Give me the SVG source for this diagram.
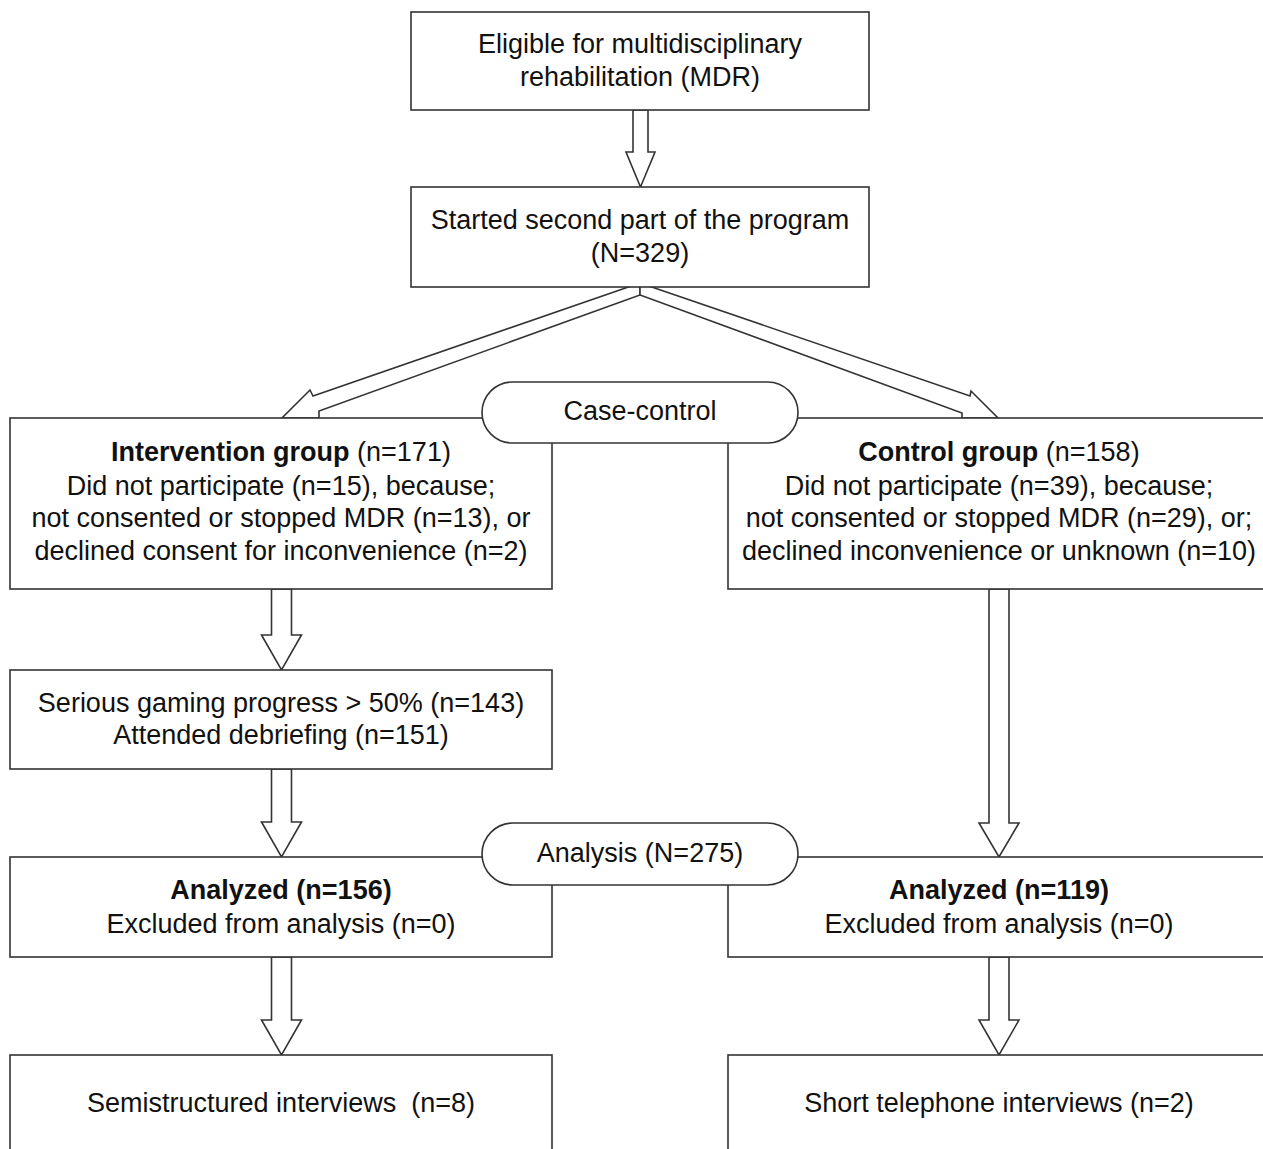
<svg xmlns="http://www.w3.org/2000/svg" width="1263" height="1149" viewBox="0 0 1263 1149">
<style>
.box{fill:#fff;stroke:#333;stroke-width:1.6}
.arr{fill:#fff;stroke:#333;stroke-width:1.6;stroke-linejoin:miter}
text{font-family:"Liberation Sans",Arial,sans-serif;font-size:27px;fill:#111;text-anchor:middle}
.b{font-weight:bold}
</style>
<rect width="1263" height="1149" fill="#fff"/>
<g id="connectors">
<polygon class="arr" points="633,110 633,152 626,152 640.5,187 655,152 648,152 648,110"/>
<polygon class="arr" points="640,283 313,396 310,390 282,418 319,418 319,411 640,295"/>
<polygon class="arr" points="640,283 970,396 971,391 998,418 962,418 962,413 640,295"/>
<polygon class="arr" points="271.5,589 271.5,635 261.5,635 281.5,670 301.5,635 291.5,635 291.5,589"/>
<polygon class="arr" points="271.5,769 271.5,822 261.5,822 281.5,857 301.5,822 291.5,822 291.5,769"/>
<polygon class="arr" points="271.5,957 271.5,1020 261.5,1020 281.5,1055 301.5,1020 291.5,1020 291.5,957"/>
<polygon class="arr" points="989,589 989,823 979,823 999,857 1019,823 1009,823 1009,589"/>
<polygon class="arr" points="989,957 989,1020 979,1020 999,1055 1019,1020 1009,1020 1009,957"/>
</g>
<g id="eligible">
<rect class="box" x="411" y="12" width="458" height="98"/>
<text x="640" y="53">Eligible for multidisciplinary</text>
<text x="640" y="86">rehabilitation (MDR)</text>
</g>
<g id="started">
<rect class="box" x="411" y="187" width="458" height="100"/>
<text x="640" y="229">Started second part of the program</text>
<text x="640" y="262">(N=329)</text>
</g>
<g id="intervention">
<rect class="box" x="10" y="418" width="542" height="171"/>
<text x="281" y="461"><tspan class="b">Intervention group</tspan> (n=171)</text>
<text x="281" y="495">Did not participate (n=15), because;</text>
<text x="281" y="527">not consented or stopped MDR (n=13), or</text>
<text x="281" y="560">declined consent for inconvenience (n=2)</text>
</g>
<g id="control">
<rect class="box" x="728" y="418" width="545" height="171"/>
<text x="999" y="461"><tspan class="b">Control group</tspan> (n=158)</text>
<text x="999" y="495">Did not participate (n=39), because;</text>
<text x="999" y="527">not consented or stopped MDR (n=29), or;</text>
<text x="999" y="560">declined inconvenience or unknown (n=10)</text>
</g>
<g id="case-control">
<rect class="box" x="482" y="382" width="316" height="61" rx="30.5"/>
<text x="640" y="420">Case-control</text>
</g>
<g id="gaming">
<rect class="box" x="10" y="670" width="542" height="99"/>
<text x="281" y="712">Serious gaming progress &gt; 50% (n=143)</text>
<text x="281" y="744">Attended debriefing (n=151)</text>
</g>
<g id="analyzed-left">
<rect class="box" x="10" y="857" width="542" height="100"/>
<text x="281" y="899" class="b">Analyzed (n=156)</text>
<text x="281" y="933">Excluded from analysis (n=0)</text>
</g>
<g id="analyzed-right">
<rect class="box" x="728" y="857" width="545" height="100"/>
<text x="999" y="899" class="b">Analyzed (n=119)</text>
<text x="999" y="933">Excluded from analysis (n=0)</text>
</g>
<g id="analysis">
<rect class="box" x="482" y="823" width="316" height="62" rx="31"/>
<text x="640" y="862">Analysis (N=275)</text>
</g>
<g id="semistructured">
<rect class="box" x="10" y="1055" width="542" height="110"/>
<text x="281" y="1112" xml:space="preserve">Semistructured interviews  (n=8)</text>
</g>
<g id="telephone">
<rect class="box" x="728" y="1055" width="545" height="110"/>
<text x="999" y="1112">Short telephone interviews (n=2)</text>
</g>
</svg>
